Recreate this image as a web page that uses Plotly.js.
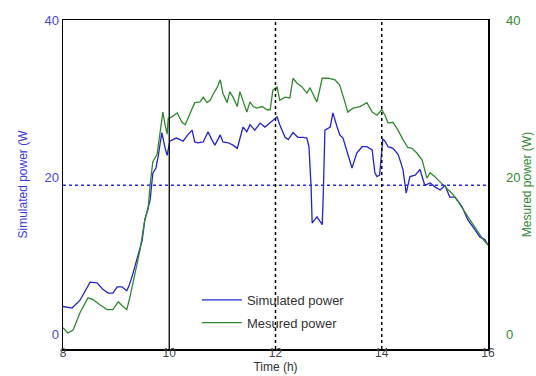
<!DOCTYPE html>
<html>
<head>
<meta charset="utf-8">
<script src="https://cdn.plot.ly/plotly-3.0.1.min.js"></script>
<style>
  html, body { margin: 0; padding: 0; background: #fff; }
  #chart { width: 536px; height: 376px; }
</style>
</head>
<body>
<div id="chart"></div>
<script>
// Simulated PV power (W) over the day, time in hours
const simTime = [8.00, 8.17, 8.32, 8.51, 8.64, 8.75, 8.85, 8.94, 9.02, 9.11, 9.20, 9.24, 9.30, 9.39, 9.49, 9.54, 9.64, 9.69, 9.75, 9.79, 9.86, 9.92, 9.96, 10.01,
  10.13, 10.20, 10.26, 10.35, 10.43, 10.48, 10.54, 10.64, 10.73, 10.80, 10.86, 10.96, 11.01, 11.11, 11.20, 11.28, 11.33, 11.39, 11.46, 11.52, 11.61, 11.71, 11.80, 11.90, 11.95,
  12.03, 12.08, 12.18, 12.24, 12.33, 12.42, 12.52, 12.59, 12.63, 12.67, 12.69, 12.78, 12.88, 12.90, 12.93, 13.03, 13.08, 13.16, 13.21, 13.27, 13.36, 13.44, 13.53, 13.63, 13.72, 13.82, 13.87, 13.91, 13.96,
  14.02, 14.06, 14.12, 14.21, 14.31, 14.40, 14.46, 14.53, 14.63, 14.72, 14.81, 14.91, 15.00, 15.10, 15.19, 15.28, 15.38, 15.51, 15.62, 15.76, 15.85, 15.94, 16.00];
const simPower = [3.6, 3.4, 4.4, 6.7, 6.6, 5.8, 5.3, 5.3, 6.1, 6.1, 5.6, 6.2, 7.4, 9.5, 12.0, 14.6, 17.1, 20.5, 21.2, 22.6, 25.7, 23.8, 22.8, 24.6,
  25.0, 24.8, 24.6, 25.4, 26.0, 24.5, 24.4, 24.5, 25.8, 24.8, 24.1, 25.4, 24.5, 24.4, 24.1, 23.7, 25.1, 26.4, 25.8, 26.7, 26.0, 26.9, 26.4, 27.0, 27.3,
  27.7, 26.7, 25.1, 24.8, 25.7, 25.1, 25.1, 25.0, 23.9, 18.8, 14.2, 15.0, 14.0, 18.0, 26.0, 26.4, 28.2, 26.4, 25.4, 25.0, 23.1, 21.2, 23.1, 23.9, 23.9, 23.5, 20.6, 20.1, 20.3,
  24.9, 24.6, 23.9, 23.7, 22.9, 21.0, 18.0, 20.1, 20.3, 21.0, 19.0, 19.3, 18.8, 18.4, 19.0, 17.5, 17.5, 16.3, 14.6, 13.3, 12.4, 12.1, 11.4];

// Measured PV power (W)
const measTime = [8.00, 8.09, 8.19, 8.32, 8.47, 8.56, 8.70, 8.83, 8.94, 9.04, 9.13, 9.20, 9.26, 9.36, 9.45, 9.54, 9.60, 9.64, 9.69, 9.77, 9.83, 9.88, 9.92, 9.96, 9.98,
  10.05, 10.15, 10.24, 10.30, 10.39, 10.48, 10.58, 10.64, 10.71, 10.77, 10.82, 10.90, 10.96, 11.01, 11.09, 11.14, 11.20, 11.28, 11.33, 11.39, 11.46, 11.52, 11.58, 11.65, 11.75, 11.84, 11.90, 11.95,
  12.03, 12.08, 12.18, 12.27, 12.33, 12.40, 12.50, 12.59, 12.65, 12.74, 12.78, 12.88, 12.99, 13.12, 13.21, 13.31, 13.36, 13.46, 13.59, 13.72, 13.82, 13.91,
  14.00, 14.06, 14.12, 14.21, 14.29, 14.40, 14.49, 14.57, 14.66, 14.76, 14.85, 14.91, 15.00, 15.10, 15.19, 15.32, 15.42, 15.53, 15.66, 15.79, 15.91, 16.00];
const measPower = [0.9, 0.25, 0.6, 2.8, 4.7, 4.5, 3.8, 3.2, 3.2, 4.2, 3.6, 3.2, 4.8, 7.9, 10.8, 14.6, 15.9, 19.0, 22.0, 22.9, 26.0, 28.3, 26.7, 25.5, 27.5,
  27.7, 28.2, 27.0, 26.7, 28.2, 29.5, 29.6, 30.2, 29.5, 29.8, 30.5, 31.4, 32.4, 30.7, 29.5, 30.9, 30.2, 29.0, 30.9, 29.8, 28.3, 29.6, 29.0, 28.8, 29.0, 28.6, 28.6, 31.1,
  31.5, 29.8, 30.2, 30.1, 32.6, 32.0, 31.5, 30.7, 31.4, 30.1, 29.6, 32.6, 32.6, 32.4, 31.7, 29.5, 28.3, 28.8, 29.0, 29.5, 28.3, 27.9,
  28.6, 27.9, 26.9, 27.0, 26.2, 24.8, 23.8, 23.7, 23.1, 22.2, 19.9, 20.6, 20.1, 19.4, 18.8, 18.0, 17.1, 15.9, 14.6, 13.3, 12.1, 11.4];

// Axis ticks
const timeTicks = [8, 10, 12, 14, 16];
const timeTickText = ['8', '10', '12', '14', '16'];
const powerTicks = [0, 20, 40];
const powerTickText = ['0', '20', '40'];

// Reference markers
const solidHour = 10;
const dottedHours = [12, 14];
const refPower = 19;

const BLUE = '#2323d2';
const GREEN = '#2f8a2f';
const FONT = 'Liberation Sans, Arial, sans-serif';

const traces = [
  { x: simTime, y: simPower, type: 'scatter', mode: 'lines', name: 'Simulated power',
    legendgroup: 'sim', line: { color: BLUE, width: 1.3 }, yaxis: 'y' },
  { x: measTime, y: measPower, type: 'scatter', mode: 'lines', name: 'Mesured power',
    legendgroup: 'meas', line: { color: GREEN, width: 1.3 }, yaxis: 'y2' }
];

const shapes = [
  { type: 'line', xref: 'x', yref: 'paper', x0: solidHour, x1: solidHour, y0: 0, y1: 1,
    line: { color: '#000', width: 1.3 } },
  { type: 'line', xref: 'paper', yref: 'y', x0: 0, x1: 1, y0: refPower, y1: refPower,
    line: { color: '#2a2ae6', width: 1.6, dash: 'dot' } }
];
dottedHours.forEach(h => shapes.push({
  type: 'line', xref: 'x', yref: 'paper', x0: h, x1: h, y0: 0, y1: 1,
  line: { color: '#000', width: 1.5, dash: 'dot' }
}));

const layout = {
  width: 536, height: 376,
  margin: { l: 63, r: 48, t: 20, b: 27 },
  paper_bgcolor: '#fff', plot_bgcolor: '#fff',
  font: { family: FONT, size: 12, color: '#333' },
  showlegend: true,
  legend: {
    x: 0.315, y: 0.195, xanchor: 'left', yanchor: 'top',
    bgcolor: 'rgba(0,0,0,0)', borderwidth: 0,
    font: { family: FONT, size: 13, color: '#333' },
    tracegroupgap: 3, itemwidth: 40
  },
  xaxis: {
    range: [8, 16], tickvals: timeTicks, ticktext: timeTickText,
    showgrid: false, zeroline: false, showline: true, mirror: true,
    linecolor: '#000', linewidth: 1.5, ticks: '',
    ticklabelstandoff: -8,
    tickfont: { family: FONT, size: 12, color: '#444' },
    title: { text: 'Time (h)', standoff: 2, font: { family: FONT, size: 12, color: '#333' } }
  },
  yaxis: {
    range: [-1.8, 40], tickvals: powerTicks, ticktext: powerTickText,
    showgrid: false, zeroline: false, showline: true, mirror: true,
    linecolor: '#000', linewidth: 1.5, ticks: '',
    tickfont: { family: FONT, size: 13, color: '#4545e0' },
    title: { text: 'Simulated power (W', standoff: 14, font: { family: FONT, size: 12, color: '#3a3ae0' } }
  },
  yaxis2: {
    range: [-1.8, 40], tickvals: powerTicks, ticktext: powerTickText,
    overlaying: 'y', side: 'right',
    showgrid: false, zeroline: false, showline: false, ticks: '',
    ticklabelstandoff: 17,
    tickfont: { family: FONT, size: 13, color: GREEN },
    title: { text: 'Mesured power (W)', standoff: 2, font: { family: FONT, size: 12, color: GREEN } }
  },
  shapes: shapes
};

Plotly.newPlot('chart', traces, layout, { displayModeBar: false, staticPlot: true });
</script>
</body>
</html>
